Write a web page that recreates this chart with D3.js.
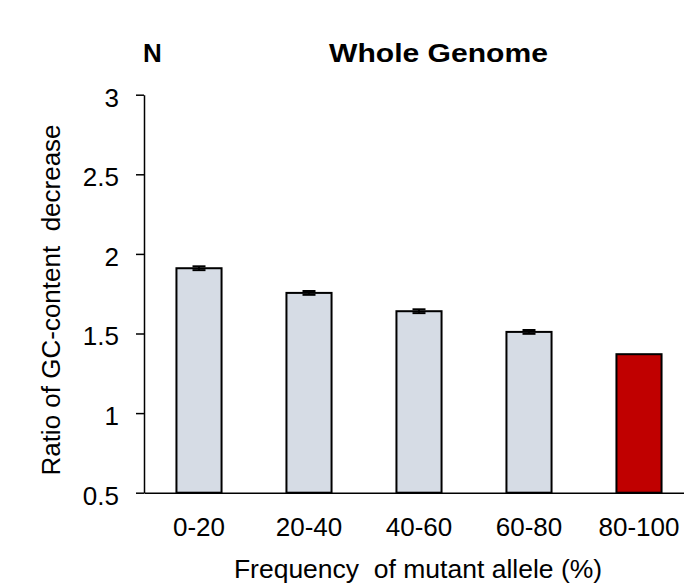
<!DOCTYPE html>
<html>
<head>
  <meta charset="utf-8">
  <title>Whole Genome</title>
  <script src="https://d3js.org/d3.v7.min.js"></script>
  <style>
    body { margin: 0; background: #fff; }
    text { font-family: "Liberation Sans", Arial, sans-serif; fill: #000; white-space: pre; }
  </style>
</head>
<body>
  <script>
    // Data
    const categories = ['0-20', '20-40', '40-60', '60-80', '80-100'];
    const ratios = [1.91, 1.755, 1.64, 1.51, 1.37];
    const errors = [0.012, 0.012, 0.012, 0.012, 0];
    const yTicks = [0.5, 1, 1.5, 2, 2.5, 3];

    const width = 684;
    const height = 585;

    const svg = d3.select('body').append('svg')
      .attr('width', width)
      .attr('height', height);

    // Scales
    const x = d3.scaleBand()
      .domain(categories)
      .range([144, 694])
      .paddingInner(0.59)
      .paddingOuter(0.295);

    const y = d3.scaleLinear()
      .domain([0.5, 3])
      .range([492.7, 94.7]);

    // Bars
    svg.selectAll('.bar')
      .data(categories)
      .enter().append('rect')
      .attr('class', 'bar')
      .attr('x', d => x(d))
      .attr('y', (d, i) => y(ratios[i]))
      .attr('width', x.bandwidth())
      .attr('height', (d, i) => y(0.5) - y(ratios[i]))
      .attr('fill', (d, i) => i === categories.length - 1 ? '#c00000' : '#d6dce5')
      .attr('stroke', '#000')
      .attr('stroke-width', 2);

    // Error bars (tiny, mostly hidden by the bar outline)
    const capW = 13;
    const errData = categories
      .map((c, i) => ({ c: c, v: ratios[i], e: errors[i] }))
      .filter(d => d.e > 0);

    const err = svg.selectAll('.err')
      .data(errData)
      .enter().append('g')
      .attr('class', 'err')
      .attr('stroke', '#000')
      .attr('stroke-width', 2);

    err.append('line')
      .attr('x1', d => x(d.c) + x.bandwidth() / 2)
      .attr('x2', d => x(d.c) + x.bandwidth() / 2)
      .attr('y1', d => y(d.v + d.e))
      .attr('y2', d => y(d.v - d.e));

    err.append('line')
      .attr('x1', d => x(d.c) + x.bandwidth() / 2 - capW / 2)
      .attr('x2', d => x(d.c) + x.bandwidth() / 2 + capW / 2)
      .attr('y1', d => y(d.v - d.e))
      .attr('y2', d => y(d.v - d.e));

    err.append('line')
      .attr('x1', d => x(d.c) + x.bandwidth() / 2 - capW / 2)
      .attr('x2', d => x(d.c) + x.bandwidth() / 2 + capW / 2)
      .attr('y1', d => y(d.v + d.e))
      .attr('y2', d => y(d.v + d.e));

    // Y axis
    const yAxis = svg.append('g')
      .attr('transform', 'translate(144,0)')
      .call(d3.axisLeft(y)
        .tickValues(yTicks)
        .tickSize(8)
        .tickSizeOuter(0)
        .tickPadding(17)
        .tickFormat(d3.format('')));
    yAxis.selectAll('path, line').attr('stroke', '#000').attr('stroke-width', 1.5);
    yAxis.selectAll('text')
      .attr('dy', '0.44em')
      .style('font-size', '26px')
      .style('font-family', '"Liberation Sans", Arial, sans-serif');

    // X axis
    const xAxis = svg.append('g')
      .attr('transform', `translate(0,${y(0.5)})`)
      .call(d3.axisBottom(x).tickSize(0).tickSizeOuter(0).tickPadding(25));
    xAxis.select('.domain').attr('stroke', '#000').attr('stroke-width', 1.5);
    xAxis.selectAll('text')
      .style('font-size', '26px')
      .style('font-family', '"Liberation Sans", Arial, sans-serif');

    // Axis titles
    svg.append('text')
      .attr('x', 418)
      .attr('y', 578)
      .attr('text-anchor', 'middle')
      .style('font-size', '26.5px')
      .text('Frequency  of mutant allele (%)');

    svg.append('text')
      .attr('transform', 'translate(60,300) rotate(-90)')
      .attr('text-anchor', 'middle')
      .style('font-size', '26px')
      .text('Ratio of GC-content  decrease');

    // Panel letter and title
    svg.append('text')
      .attr('x', 143)
      .attr('y', 62)
      .style('font-size', '26px')
      .style('font-weight', 'bold')
      .text('N');

    svg.append('text')
      .attr('x', 329)
      .attr('y', 62)
      .attr('textLength', 219)
      .attr('lengthAdjust', 'spacingAndGlyphs')
      .style('font-size', '26px')
      .style('font-weight', 'bold')
      .text('Whole Genome');
  </script>
</body>
</html>
